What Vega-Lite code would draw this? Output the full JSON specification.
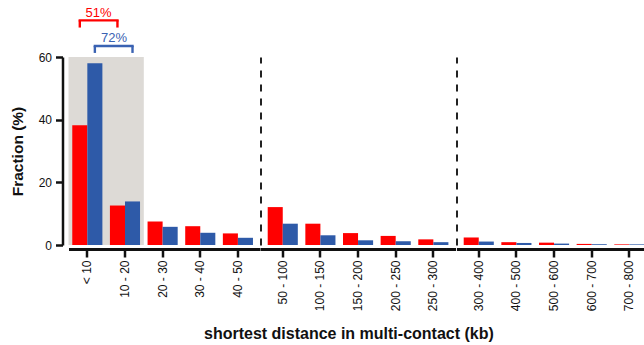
{
  "$schema": "https://vega.github.io/schema/vega-lite/v6.json",
  "background": "white",
  "padding": {"left": 9.5, "top": 6, "right": 0, "bottom": 0},
  "autosize": {"type": "pad"},
  "bounds": "flush",
  "spacing": 0,
  "config": {
    "font": "Liberation Sans",
    "view": {"stroke": null},
    "axis": {"domainColor": "#111111", "tickColor": "#111111", "labelColor": "#111111", "titleColor": "#111111", "grid": false, "labelFontSize": 12}
  },
  "datasets": {
    "bars": [
      {"range": "0-50", "distance": "< 10", "series": "Set 1", "fraction": 38.2},
      {"range": "0-50", "distance": "< 10", "series": "Set 2", "fraction": 58.0},
      {"range": "0-50", "distance": "10 - 20", "series": "Set 1", "fraction": 12.6},
      {"range": "0-50", "distance": "10 - 20", "series": "Set 2", "fraction": 13.9},
      {"range": "0-50", "distance": "20 - 30", "series": "Set 1", "fraction": 7.5},
      {"range": "0-50", "distance": "20 - 30", "series": "Set 2", "fraction": 5.8},
      {"range": "0-50", "distance": "30 - 40", "series": "Set 1", "fraction": 6.0},
      {"range": "0-50", "distance": "30 - 40", "series": "Set 2", "fraction": 3.9},
      {"range": "0-50", "distance": "40 - 50", "series": "Set 1", "fraction": 3.7},
      {"range": "0-50", "distance": "40 - 50", "series": "Set 2", "fraction": 2.3},
      {"range": "50-300", "distance": "50 - 100", "series": "Set 1", "fraction": 12.1},
      {"range": "50-300", "distance": "50 - 100", "series": "Set 2", "fraction": 6.8},
      {"range": "50-300", "distance": "100 - 150", "series": "Set 1", "fraction": 6.8},
      {"range": "50-300", "distance": "100 - 150", "series": "Set 2", "fraction": 3.1},
      {"range": "50-300", "distance": "150 - 200", "series": "Set 1", "fraction": 3.8},
      {"range": "50-300", "distance": "150 - 200", "series": "Set 2", "fraction": 1.5},
      {"range": "50-300", "distance": "200 - 250", "series": "Set 1", "fraction": 2.9},
      {"range": "50-300", "distance": "200 - 250", "series": "Set 2", "fraction": 1.2},
      {"range": "50-300", "distance": "250 - 300", "series": "Set 1", "fraction": 1.8},
      {"range": "50-300", "distance": "250 - 300", "series": "Set 2", "fraction": 0.9},
      {"range": "300-800", "distance": "300 - 400", "series": "Set 1", "fraction": 2.4},
      {"range": "300-800", "distance": "300 - 400", "series": "Set 2", "fraction": 1.1},
      {"range": "300-800", "distance": "400 - 500", "series": "Set 1", "fraction": 0.9},
      {"range": "300-800", "distance": "400 - 500", "series": "Set 2", "fraction": 0.65},
      {"range": "300-800", "distance": "500 - 600", "series": "Set 1", "fraction": 0.75},
      {"range": "300-800", "distance": "500 - 600", "series": "Set 2", "fraction": 0.45},
      {"range": "300-800", "distance": "600 - 700", "series": "Set 1", "fraction": 0.35},
      {"range": "300-800", "distance": "600 - 700", "series": "Set 2", "fraction": 0.25},
      {"range": "300-800", "distance": "700 - 800", "series": "Set 1", "fraction": 0.2},
      {"range": "300-800", "distance": "700 - 800", "series": "Set 2", "fraction": 0.2}
    ]
  },
  "resolve": {"scale": {"x": "independent", "y": "independent", "xOffset": "independent", "color": "shared"}},
  "hconcat": [
    {
      "width": 191.6,
      "height": 188,
      "layer": [
        {
          "data": {"values": [{"from": "< 10", "to": "10 - 20"}]},
          "mark": {"type": "rect", "color": "#dddad6", "xOffset": -3.77, "x2Offset": 3.77},
          "encoding": {
            "x": {"field": "from", "type": "nominal", "bandPosition": 0},
            "x2": {"field": "to", "bandPosition": 1},
            "y": {"datum": 60},
            "y2": {"datum": 0}
          }
        },
        {
          "data": {"name": "bars"},
          "transform": [{"filter": "datum.range == '0-50'"}],
          "mark": {"type": "bar"},
          "encoding": {
            "x": {
              "field": "distance", "type": "nominal",
              "scale": {"domain": ["< 10", "10 - 20", "20 - 30", "30 - 40", "40 - 50"], "paddingInner": 0.2, "paddingOuter": 0.1448, "align": 0.346, "round": false},
              "axis": {"title": null, "labelAngle": -90, "labelPadding": 3, "tickSize": 8, "tickWidth": 2.5, "domainWidth": 3, "offset": 4}
            },
            "xOffset": {"field": "series", "type": "nominal", "scale": {"domain": ["Set 1", "Set 2"]}},
            "y": {
              "field": "fraction", "type": "quantitative",
              "scale": {"domain": [0, 60], "nice": false},
              "axis": {"title": "Fraction (%)", "values": [0, 10, 20, 30, 40, 50, 60], "labelExpr": "datum.value % 20 == 0 ? datum.label : ''", "offset": 6, "tickSize": 7, "tickWidth": 2.5, "domainWidth": 2.5, "labelPadding": 4, "titlePadding": 13, "titleFontSize": 15.5, "titleFontWeight": "bold", "labelOverlap": false}
            },
            "color": {"field": "series", "type": "nominal", "scale": {"domain": ["Set 1", "Set 2"], "range": ["#ff0000", "#2e5aa8"]}, "legend": null}
          }
        },
        {
          "data": {"values": [{"from": "< 10", "to": "10 - 20"}]},
          "mark": {"type": "rule", "color": "#ff0000", "strokeWidth": 2.4, "strokeCap": "square"},
          "encoding": {
            "x": {"field": "from", "type": "nominal", "bandPosition": 0.25},
            "x2": {"field": "to", "bandPosition": 0.25},
            "y": {"datum": 71.7}
          }
        },
        {
          "data": {"values": [{"cat": "< 10"}, {"cat": "10 - 20"}]},
          "mark": {"type": "rule", "color": "#ff0000", "strokeWidth": 2.4},
          "encoding": {
            "x": {"field": "cat", "type": "nominal", "bandPosition": 0.25},
            "y": {"datum": 71.7},
            "y2": {"datum": 69.4}
          }
        },
        {
          "data": {"values": [{"label": "51%"}]},
          "mark": {"type": "text", "color": "#ff0000", "fontSize": 13, "baseline": "middle"},
          "encoding": {
            "x": {"datum": "< 10", "type": "nominal", "bandPosition": 0.873},
            "y": {"datum": 74.2},
            "text": {"field": "label"}
          }
        },
        {
          "data": {"values": [{"from": "< 10", "to": "10 - 20"}]},
          "mark": {"type": "rule", "color": "#3a62b2", "strokeWidth": 2.4, "strokeCap": "square"},
          "encoding": {
            "x": {"field": "from", "type": "nominal", "bandPosition": 0.75},
            "x2": {"field": "to", "bandPosition": 0.75},
            "y": {"datum": 63.5}
          }
        },
        {
          "data": {"values": [{"cat": "< 10"}, {"cat": "10 - 20"}]},
          "mark": {"type": "rule", "color": "#3a62b2", "strokeWidth": 2.4},
          "encoding": {
            "x": {"field": "cat", "type": "nominal", "bandPosition": 0.75},
            "y": {"datum": 63.5},
            "y2": {"datum": 61.3}
          }
        },
        {
          "data": {"values": [{"label": "72%"}]},
          "mark": {"type": "text", "color": "#3a62b2", "fontSize": 13, "baseline": "middle"},
          "encoding": {
            "x": {"datum": "< 10", "type": "nominal", "bandPosition": 1.388},
            "y": {"datum": 66.1},
            "text": {"field": "label"}
          }
        }
      ]
    },
    {
      "width": 195.1,
      "height": 188,
      "data": {"name": "bars"},
      "transform": [{"filter": "datum.range == '50-300'"}],
      "mark": {"type": "bar"},
      "encoding": {
        "x": {
          "field": "distance", "type": "nominal",
          "scale": {"domain": ["50 - 100", "100 - 150", "150 - 200", "200 - 250", "250 - 300"], "paddingInner": 0.2, "paddingOuter": 0.1912, "align": 0.5, "round": false},
          "axis": {"title": "shortest distance in multi-contact (kb)", "titleFontSize": 16, "titleFontWeight": "bold", "titleX": 87.9, "titleY": 89.8, "titleBaseline": "alphabetic", "labelAngle": -90, "labelPadding": 3, "tickSize": 8, "tickWidth": 2.5, "domainWidth": 3, "offset": 4}
        },
        "xOffset": {"field": "series", "type": "nominal", "scale": {"domain": ["Set 1", "Set 2"]}},
        "y": {
          "field": "fraction", "type": "quantitative",
          "scale": {"domain": [0, 60], "nice": false},
          "axis": {"title": null, "labels": false, "ticks": false, "domainDash": [7, 7], "domainWidth": 2, "domainColor": "#222222"}
        },
        "color": {"field": "series", "type": "nominal", "scale": {"domain": ["Set 1", "Set 2"], "range": ["#ff0000", "#2e5aa8"]}, "legend": null}
      }
    },
    {
      "width": 195.1,
      "height": 188,
      "data": {"name": "bars"},
      "transform": [{"filter": "datum.range == '300-800'"}],
      "mark": {"type": "bar"},
      "encoding": {
        "x": {
          "field": "distance", "type": "nominal",
          "scale": {"domain": ["300 - 400", "400 - 500", "500 - 600", "600 - 700", "700 - 800"], "paddingInner": 0.2, "paddingOuter": 0.1912, "align": 0.5, "round": false},
          "axis": {"title": null, "labelAngle": -90, "labelPadding": 3, "tickSize": 8, "tickWidth": 2.5, "domainWidth": 3, "offset": 4}
        },
        "xOffset": {"field": "series", "type": "nominal", "scale": {"domain": ["Set 1", "Set 2"]}},
        "y": {
          "field": "fraction", "type": "quantitative",
          "scale": {"domain": [0, 60], "nice": false},
          "axis": {"title": null, "labels": false, "ticks": false, "domainDash": [7, 7], "domainWidth": 2, "domainColor": "#222222"}
        },
        "color": {"field": "series", "type": "nominal", "scale": {"domain": ["Set 1", "Set 2"], "range": ["#ff0000", "#2e5aa8"]}, "legend": null}
      }
    }
  ]
}
